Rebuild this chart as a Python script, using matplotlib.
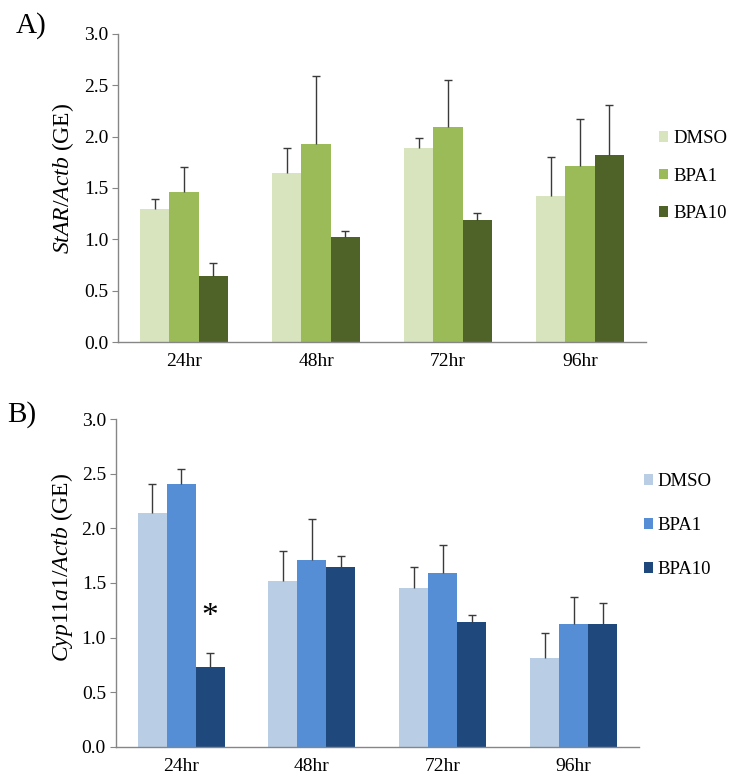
import numpy as np
import matplotlib
matplotlib.use('Agg')
import matplotlib.pyplot as plt

plt.rcParams['font.family'] = 'Liberation Serif'
plt.rcParams['mathtext.fontset'] = 'custom'
plt.rcParams['mathtext.rm'] = 'Liberation Serif'
plt.rcParams['mathtext.it'] = 'Liberation Serif:italic'

# data
times = ['24hr', '48hr', '72hr', '96hr']
groups = ['DMSO', 'BPA1', 'BPA10']

star_mean = {
    'DMSO':  [1.30, 1.65, 1.89, 1.42],
    'BPA1':  [1.46, 1.93, 2.09, 1.71],
    'BPA10': [0.64, 1.02, 1.19, 1.82],
}
star_err = {
    'DMSO':  [0.09, 0.24, 0.10, 0.38],
    'BPA1':  [0.24, 0.66, 0.46, 0.46],
    'BPA10': [0.13, 0.065, 0.065, 0.49],
}

cyp_mean = {
    'DMSO':  [2.14, 1.52, 1.45, 0.81],
    'BPA1':  [2.41, 1.71, 1.59, 1.12],
    'BPA10': [0.73, 1.65, 1.14, 1.12],
}
cyp_err = {
    'DMSO':  [0.27, 0.27, 0.20, 0.23],
    'BPA1':  [0.135, 0.38, 0.26, 0.255],
    'BPA10': [0.13, 0.10, 0.065, 0.20],
}

green = ['#D7E4BD', '#9BBB59', '#4F6228']
blue = ['#B9CDE5', '#558ED5', '#1F497D']

AXIS_GRAY = '#868686'
ERR_GRAY = '#3a3a3a'
BAR_W = 0.222
SERIF = 'Liberation Serif'


def draw_panel(ax, means, errs, colors, ylabel, label_xy):
    x = np.arange(len(times)) + 0.5
    for i, g in enumerate(groups):
        xs = x + (i - 1) * BAR_W
        ax.bar(xs, means[g], BAR_W, color=colors[i], label=g, zorder=2)
        eb = ax.errorbar(xs, means[g], yerr=[np.zeros(len(times)), errs[g]],
                         fmt='none', ecolor=ERR_GRAY, elinewidth=1.0,
                         capsize=3, capthick=1.0, zorder=3)
        # only keep the upper cap
        eb[1][0].set_visible(False)
    ax.set_xlim(0, len(times))
    ax.set_ylim(0, 3.0)
    yt = np.arange(0, 3.01, 0.5)
    ax.set_yticks(yt)
    ax.set_yticklabels([f'{v:.1f}' for v in yt], family=SERIF)
    ax.set_xticks(x)
    ax.set_xticklabels(times, family=SERIF)
    for s in ['top', 'right']:
        ax.spines[s].set_visible(False)
    for s in ['left', 'bottom']:
        ax.spines[s].set_color(AXIS_GRAY)
        ax.spines[s].set_linewidth(1.0)
    ax.tick_params(axis='y', direction='out', length=4, color=AXIS_GRAY,
                   labelsize=14, pad=3)
    ax.tick_params(axis='x', length=0, labelsize=14, pad=8)
    ax.set_ylabel(ylabel, fontsize=17, family=SERIF)
    ax.yaxis.set_label_coords(*label_xy)
    return x


fig = plt.figure(figsize=(7.29, 7.83), dpi=100)

leg_kw = dict(bbox_transform=fig.transFigure, frameon=False,
              prop={'family': SERIF, 'size': 13.5},
              handlelength=0.5, handleheight=0.5, handletextpad=0.25,
              borderpad=0, loc='upper left')

ax1 = fig.add_axes([0.1619, 0.5632, 0.7243, 0.3934])
draw_panel(ax1, star_mean, star_err, green,
           r'$\mathit{StAR/Actb}$ (GE)', (-0.080, 0.532))
ax1.legend(bbox_to_anchor=(0.891, 0.846), labelspacing=1.1, **leg_kw)

ax2 = fig.add_axes([0.1587, 0.0464, 0.7178, 0.4181])
xb = draw_panel(ax2, cyp_mean, cyp_err, blue,
                r'$\mathit{Cyp11a1/Actb}$ (GE)', (-0.077, 0.549))
ax2.legend(bbox_to_anchor=(0.870, 0.408), labelspacing=1.45, **leg_kw)

# significance mark over 24hr BPA10
sig_x = xb[0] + BAR_W
sig_y = cyp_mean['BPA10'][0] + cyp_err['BPA10'][0]
ax2.annotate('*', xy=(sig_x, sig_y), xytext=(0, 26), textcoords='offset points',
             ha='center', va='center', fontsize=24, family=SERIF)

fig.text(0.021, 0.985, 'A)', fontsize=21, va='top', ha='left', family=SERIF)
fig.text(0.010, 0.488, 'B)', fontsize=21, va='top', ha='left', family=SERIF)

fig.savefig('out.png', dpi=100)
